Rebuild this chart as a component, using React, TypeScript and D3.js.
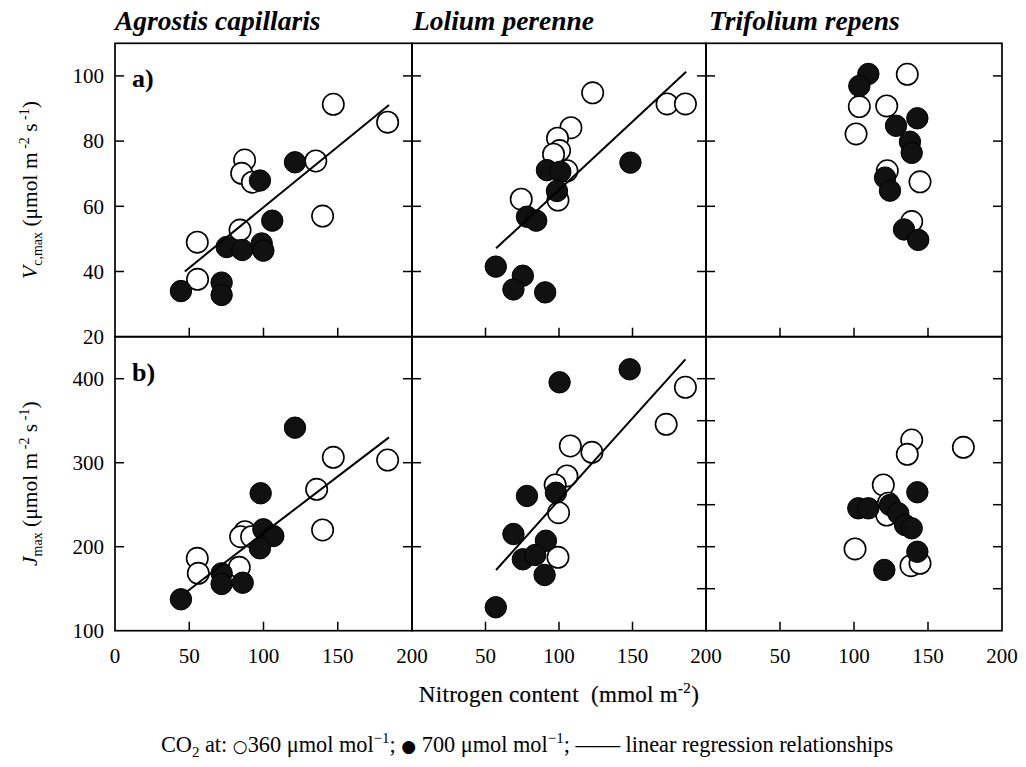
import React from 'react';
import * as d3 from 'd3';

type Pt = [number, number];

// ---------- categories / ticks ----------
const species = ['Agrostis capillaris', 'Lolium perenne', 'Trifolium repens'];
const panelLetters = ['a)', 'b)'];
const nitrogenDomain: Pt = [0, 200];
const vcmaxDomain: Pt = [20, 110];
const jmaxDomain: Pt = [100, 450];
const nitrogenTicks = [50, 100, 150];
const nitrogenLabelsFirst = [0, 50, 100, 150, 200];
const nitrogenLabelsOther = [50, 100, 150, 200];
const vcmaxTicks = [40, 60, 80, 100];
const vcmaxLabels = [20, 40, 60, 80, 100];
const jmaxLabels = [100, 200, 300, 400];
const jmaxMajorTicks = [200, 300, 400];
const jmaxMinorTicks = [150, 200, 250, 300, 350, 400];

// ---------- Vc,max (row a) : [nitrogen, value] ----------
const agrostisVcmax360: Pt[] = [
  [147, 91.3], [183.6, 85.8], [135.2, 73.9], [87.3, 74.2], [85.3, 70.1],
  [92.5, 67.4], [139.8, 57.0], [84.2, 52.7], [55.4, 49.0], [55.6, 37.6],
];
const agrostisVcmax700: Pt[] = [
  [121.2, 73.5], [97.6, 67.9], [105.9, 55.6], [75.2, 47.5], [85.7, 46.6],
  [98.8, 48.6], [99.9, 46.4], [71.8, 36.6], [71.8, 32.8], [44.4, 34.0],
];
const agrostisVcmaxFit: Pt[] = [[47, 40], [184.5, 91.1]];

const loliumVcmax360: Pt[] = [
  [122.9, 94.8], [173.5, 91.4], [186, 91.4], [108.1, 84.1], [99, 80.9],
  [100.4, 77.1], [96.3, 76.0], [105.4, 70.9], [99.3, 61.9], [74.3, 62.2],
];
const loliumVcmax700: Pt[] = [
  [148.6, 73.4], [91.8, 71.1], [100.9, 70.6], [98.6, 64.7], [78.2, 56.8],
  [84.5, 55.6], [57, 41.5], [75.4, 38.7], [69, 34.5], [90.6, 33.6],
];
const loliumVcmaxFit: Pt[] = [[57.2, 47.1], [186.5, 101.3]];

const trifoliumVcmax360: Pt[] = [
  [136, 100.5], [103.6, 90.6], [122.1, 90.8], [101.4, 82.2], [122.5, 70.9],
  [144.6, 67.5], [139, 55.3],
];
const trifoliumVcmax700: Pt[] = [
  [109.7, 100.6], [103.6, 96.9], [142.8, 87.0], [128.4, 84.7], [137.8, 79.8],
  [139, 76.4], [121, 68.8], [124.3, 64.8], [133.8, 52.9], [143.4, 49.7],
];

// ---------- Jmax (row b) ----------
const agrostisJmax360: Pt[] = [
  [147, 306.4], [183.6, 303.2], [135.8, 268.3], [139.8, 219.9], [87.5, 217.9],
  [84.6, 211.9], [92, 211.9], [83.7, 175.5], [55.4, 186.2], [56.1, 168.3],
];
const agrostisJmax700: Pt[] = [
  [121.2, 341.7], [98.1, 263.6], [99.9, 220.7], [106.6, 212.7], [97.6, 198.1],
  [71.8, 168.3], [71.8, 155.6], [86, 157.1], [44.4, 137.4],
];
const agrostisJmaxFit: Pt[] = [[48.3, 146.4], [184.5, 330.2]];

const loliumJmax360: Pt[] = [
  [186, 389.8], [172.9, 345.7], [107.7, 319.9], [122.4, 312.4], [105.4, 284.2],
  [97.4, 273.5], [99.7, 240.5], [99.3, 187.4],
];
const loliumJmax700: Pt[] = [
  [148.1, 411.2], [100.4, 395.7], [78.2, 260.4], [97.9, 264.3], [69, 215.1],
  [91.1, 207.1], [75.4, 185], [83.8, 190.1], [90.2, 166.3], [57, 127.9],
];
const loliumJmaxFit: Pt[] = [[57.2, 172.3], [186, 423.1]];

const trifoliumJmax360: Pt[] = [
  [139, 327], [173.9, 318.3], [136, 310], [119.8, 273.5], [123.2, 251.7],
  [122.1, 237.7], [100.7, 197.3], [138.5, 177.4], [144.6, 180.2],
];
const trifoliumJmax700: Pt[] = [
  [142.8, 264.8], [102.9, 245.7], [109.7, 245.7], [124.3, 249.6], [129.9, 239.8],
  [134.5, 225.8], [139, 221.9], [142.8, 194], [120.5, 172.3],
];

const rows = [
  {
    domain: vcmaxDomain,
    open: [agrostisVcmax360, loliumVcmax360, trifoliumVcmax360],
    filled: [agrostisVcmax700, loliumVcmax700, trifoliumVcmax700],
    fits: [agrostisVcmaxFit, loliumVcmaxFit, null as Pt[] | null],
    leftTicks: [vcmaxTicks, vcmaxTicks, vcmaxTicks],
    rightTicks: [vcmaxTicks, vcmaxTicks, vcmaxTicks],
    labels: vcmaxLabels,
  },
  {
    domain: jmaxDomain,
    open: [agrostisJmax360, loliumJmax360, trifoliumJmax360],
    filled: [agrostisJmax700, loliumJmax700, trifoliumJmax700],
    fits: [agrostisJmaxFit, loliumJmaxFit, null as Pt[] | null],
    leftTicks: [jmaxMajorTicks, jmaxMajorTicks, jmaxMinorTicks],
    rightTicks: [jmaxMajorTicks, jmaxMinorTicks, jmaxMinorTicks],
    labels: jmaxLabels,
  },
];

const W = 1026;
const H = 767;
const colEdges = [115, 412, 706, 1002];
const rowEdges = [43.3, 336.7, 630.7];
const TICK = 9;
const R = 10.7;
const FONT = '"Liberation Serif", "Times New Roman", Times, serif';
const SYM = '"DejaVu Sans", sans-serif';

export default function App() {
  const line = d3.line<Pt>();
  const panels: React.ReactNode[] = [];

  rows.forEach((row, r) => {
    const y = d3.scaleLinear().domain(row.domain).range([rowEdges[r + 1], rowEdges[r]]);
    species.forEach((_, c) => {
      const x = d3.scaleLinear().domain(nitrogenDomain).range([colEdges[c], colEdges[c + 1]]);
      const lineGen = line.x((d) => x(d[0])).y((d) => y(d[1]));
      const fit = row.fits[c];
      panels.push(
        <g key={`p${r}${c}`}>
          {row.open[c].map((d, i) => (
            <circle key={`o${i}`} cx={x(d[0])} cy={y(d[1])} r={R} fill="#fff" stroke="#000" strokeWidth={1.6} />
          ))}
          {row.filled[c].map((d, i) => (
            <circle key={`f${i}`} cx={x(d[0])} cy={y(d[1])} r={R} fill="#111" stroke="#000" strokeWidth={1} />
          ))}
          {fit && <path d={lineGen(fit) || ''} fill="none" stroke="#000" strokeWidth={2} />}
          <rect
            x={x(0)} y={y(row.domain[1])}
            width={x(200) - x(0)} height={y(row.domain[0]) - y(row.domain[1])}
            fill="none" stroke="#000" strokeWidth={1.7}
          />
          {row.leftTicks[c].map((t) => (
            <line key={`lt${t}`} x1={x(0)} x2={x(0) + TICK} y1={y(t)} y2={y(t)} stroke="#000" strokeWidth={1.5} />
          ))}
          {row.rightTicks[c].map((t) => (
            <line key={`rt${t}`} x1={x(200)} x2={x(200) - TICK} y1={y(t)} y2={y(t)} stroke="#000" strokeWidth={1.5} />
          ))}
          {nitrogenTicks.map((t) => (
            <line key={`bt${t}`} x1={x(t)} x2={x(t)} y1={y(row.domain[0])} y2={y(row.domain[0]) - TICK} stroke="#000" strokeWidth={1.5} />
          ))}
          {c === 0 &&
            row.labels.map((t) => (
              <text key={`yl${t}`} x={x(0) - 11} y={y(t)} dy="0.35em" textAnchor="end" fontSize={21}>
                {t}
              </text>
            ))}
          {r === 1 &&
            (c === 0 ? nitrogenLabelsFirst : nitrogenLabelsOther).map((t) => (
              <text key={`xl${t}`} x={x(t)} y={663} textAnchor="middle" fontSize={21}>
                {t}
              </text>
            ))}
          {c === 0 && (
            <text x={x(0) + 17} y={y(row.domain[1]) + 44} fontSize={26} fontWeight="bold">
              {panelLetters[r]}
            </text>
          )}
        </g>
      );
    });
  });

  const titleX = [115, 413, 709];

  return (
    <svg
      width={W}
      height={H}
      viewBox={`0 0 ${W} ${H}`}
      style={{ position: 'absolute', left: 0, top: 0, background: '#fff' }}
      fontFamily={FONT}
      fill="#000"
    >
      <rect x={0} y={0} width={W} height={H} fill="#fff" />
      {species.map((s, i) => (
        <text key={s} x={titleX[i]} y={30} fontSize={27.5} fontWeight="bold" fontStyle="italic">
          {s}
        </text>
      ))}
      {panels}
      {/* y-axis titles */}
      <text transform={`translate(37,${(rowEdges[0] + rowEdges[1]) / 2}) rotate(-90)`} textAnchor="middle" fontSize={21.5}>
        <tspan fontStyle="italic">V</tspan>
        <tspan fontSize={14} dy={5}>c,max</tspan>
        <tspan dy={-5}> (μmol m</tspan>
        <tspan fontSize={14} dy={-8}> -2</tspan>
        <tspan dy={8}> s</tspan>
        <tspan fontSize={14} dy={-8}> -1</tspan>
        <tspan dy={8}>)</tspan>
      </text>
      <text transform={`translate(37,${(rowEdges[1] + rowEdges[2]) / 2}) rotate(-90)`} textAnchor="middle" fontSize={21.5}>
        <tspan fontStyle="italic">J</tspan>
        <tspan fontSize={14} dy={5}>max</tspan>
        <tspan dy={-5}> (μmol m</tspan>
        <tspan fontSize={14} dy={-8}> -2</tspan>
        <tspan dy={8}> s</tspan>
        <tspan fontSize={14} dy={-8}> -1</tspan>
        <tspan dy={8}>)</tspan>
      </text>
      {/* x-axis title */}
      <text
        x={(colEdges[1] + colEdges[2]) / 2}
        y={702}
        textAnchor="middle"
        fontSize={23}
        letterSpacing={0.3}
        stroke="#000"
        strokeWidth={0.2}
      >
        <tspan>Nitrogen content {'\u00A0'}(mmol m</tspan>
        <tspan fontSize={15} dy={-9}>-2</tspan>
        <tspan dy={9}>)</tspan>
      </text>
      {/* legend */}
      <text x={527} y={752} textAnchor="middle" fontSize={22.3}>
        <tspan>CO</tspan>
        <tspan fontSize={15} dy={5}>2</tspan>
        <tspan dy={-5}> at: </tspan>
        <tspan fontFamily={SYM} fontSize={17}>○</tspan>
        <tspan>360 μmol mol</tspan>
        <tspan fontSize={15} dy={-9}>−1</tspan>
        <tspan dy={9}>; </tspan>
        <tspan fontFamily={SYM} fontSize={17}>●</tspan>
        <tspan> 700 μmol mol</tspan>
        <tspan fontSize={15} dy={-9}>−1</tspan>
        <tspan dy={9}>; —— linear regression relationships</tspan>
      </text>
    </svg>
  );
}
